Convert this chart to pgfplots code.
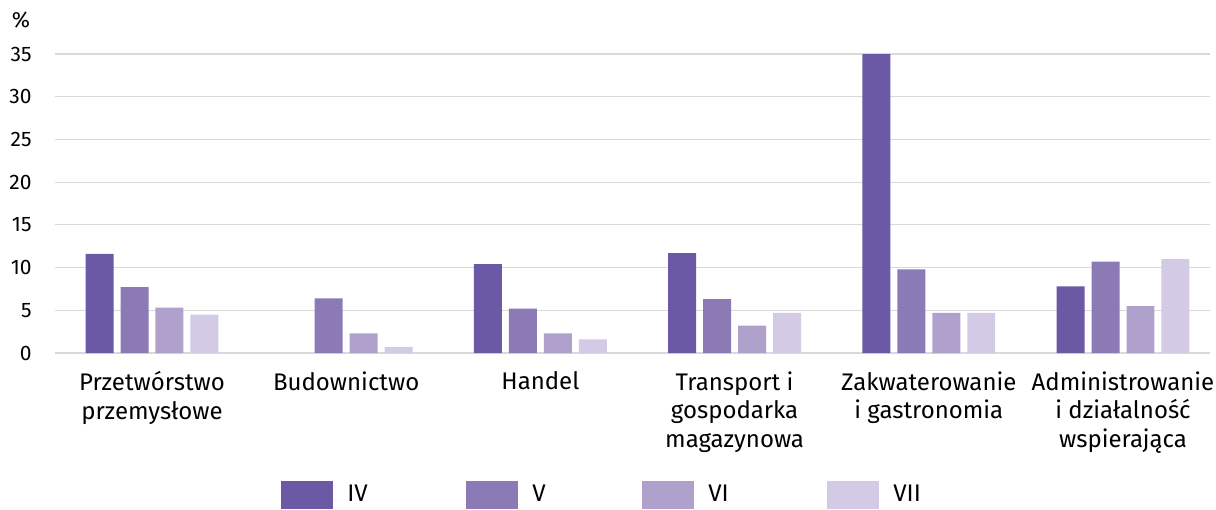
\documentclass[border=0pt]{standalone}
\usepackage{fontspec}
\setmainfont{Fira Sans}
\usepackage{pgfplots}
\pgfplotsset{compat=1.18}

\definecolor{cIV}{HTML}{6B59A6}
\definecolor{cV}{HTML}{8C7AB7}
\definecolor{cVI}{HTML}{B0A0CC}
\definecolor{cVII}{HTML}{D3CBE5}
\definecolor{gridc}{HTML}{D9D9D9}

\begin{document}
\begin{tikzpicture}[font=\fontsize{12}{14.25}\selectfont]
\path[use as bounding box] (-27.5pt,-78pt) rectangle (580.5pt,176.5pt);
\begin{axis}[
  scale only axis,
  width=577.5pt, height=149.5pt,
  xmin=-0.4995, xmax=5.448,
  ymin=0, ymax=35,
  ytick={0,5,...,35},
  xtick={0,1,2,3,4,5},
  xticklabels={{Przetwórstwo\\przemysłowe},{Budownictwo},{Handel},{Transport i\\gospodarka\\magazynowa},{Zakwaterowanie\\i gastronomia},{Administrowanie\\i działalność\\wspierająca}},
  xticklabel style={align=center, anchor=north, inner sep=0pt, yshift=-9pt,
    font=\fontsize{12}{14.25}\selectfont},
  yticklabel style={anchor=east, inner sep=0pt, xshift=-11.5pt,
    font=\fontsize{10.5}{12}\selectfont},
  /pgf/number format/assume math mode=true,
  major tick length=0pt,
  axis line style={draw=none},
  ymajorgrids,
  grid style={gridc, line width=0.6pt},
  ybar, bar width=0.144,
  legend columns=4,
  legend style={draw=none, at={(rel axis cs:0,0)}, anchor=west, xshift=110pt, yshift=-71pt,
    font=\fontsize{12}{14}\selectfont,
    /tikz/every even column/.append style={column sep=0pt}},
  legend image code/.code={\fill[#1] (0pt,-7pt) rectangle (26pt,7pt);},
]
\addplot[fill=cIV, draw=none, bar shift=-0.27] coordinates {(0,11.6) (2,10.4) (3,11.7) (4,35.0) (5,7.8)};
\addlegendentry{\makebox[62.5pt][l]{\hspace{5pt}IV}}
\addplot[fill=cV, draw=none, bar shift=-0.09] coordinates {(0,7.7) (1,6.4) (2,5.2) (3,6.3) (4,9.8) (5,10.7)};
\addlegendentry{\makebox[58pt][l]{\hspace{5pt}V}}
\addplot[fill=cVI, draw=none, bar shift=0.09] coordinates {(0,5.3) (1,2.3) (2,2.3) (3,3.2) (4,4.7) (5,5.5)};
\addlegendentry{\makebox[62.5pt][l]{\hspace{5pt}VI}}
\addplot[fill=cVII, draw=none, bar shift=0.27] coordinates {(0,4.5) (1,0.7) (2,1.6) (3,4.7) (4,4.7) (5,11.0)};
\addlegendentry{\hspace{5pt}VII}
\end{axis}
\node[font=\fontsize{11}{12}\selectfont] at (-17pt,166.5pt) {\%};
\end{tikzpicture}
\end{document}
